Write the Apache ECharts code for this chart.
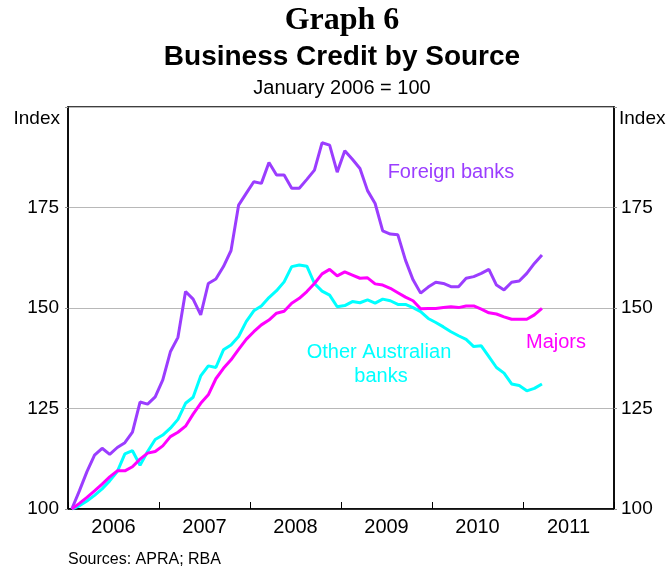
<!DOCTYPE html>
<html lang="en">
<head>
<meta charset="UTF-8">
<title>Business Credit by Source</title>
<style>html,body{margin:0;padding:0;background:#fff;}</style>
</head>
<body>
<div id="main" style="width:668px;height:570px;"></div>
<script src="https://cdn.jsdelivr.net/npm/echarts@6/dist/echarts.min.js"></script>
<script>
// monthly index, January 2006 = 100 (Jan 2006 .. Mar 2011)
var years = ['2006', '2007', '2008', '2009', '2010', '2011'];

var foreignBanks = [100, 104.5, 109.3, 113.4, 115.1, 113.6, 115.3, 116.5, 119.1, 126.6,
    126.1, 127.9, 132.1, 139.1, 142.7, 154.1, 152.2, 148.3, 156.1, 157.2,
    160.3, 164.3, 175.6, 178.5, 181.4, 181.0, 186.2, 183.1, 183.1, 179.8,
    179.8, 182.0, 184.3, 191.1, 190.5, 183.8, 189.1, 187.0, 184.7, 179.2,
    176.0, 169.2, 168.4, 168.2, 161.9, 157.0, 153.7, 155.2, 156.4, 156.1,
    155.3, 155.3, 157.4, 157.8, 158.6, 159.6, 155.7, 154.5, 156.4, 156.7,
    158.6, 161.1, 163.2];

var majors = [100, 101.4, 102.9, 104.5, 106.2, 108.0, 109.5, 109.5, 110.5, 112.4,
    113.9, 114.3, 115.7, 118.0, 119.1, 120.6, 123.6, 126.3, 128.4, 132.4,
    135.0, 137.1, 139.7, 142.2, 144.1, 145.8, 147.0, 148.7, 149.2, 151.2,
    152.4, 154.1, 156.1, 158.5, 159.6, 158.0, 159.0, 158.2, 157.4, 157.5,
    156.0, 155.7, 154.9, 153.8, 152.7, 151.8, 149.8, 149.9, 149.9, 150.1,
    150.3, 150.1, 150.5, 150.5, 149.7, 148.8, 148.5, 147.8, 147.2, 147.2,
    147.2, 148.3, 149.9];

var otherAustralian = [100, 100.8, 102.0, 103.4, 105.0, 107.0, 109.3, 113.7, 114.5, 110.9,
    114.3, 117.3, 118.4, 120.1, 122.3, 126.3, 127.8, 133.1, 135.6, 135.2,
    139.6, 140.8, 142.9, 146.6, 149.3, 150.5, 152.6, 154.3, 156.5, 160.3,
    160.7, 160.4, 156.1, 154.2, 153.2, 150.3, 150.6, 151.6, 151.3, 152.0,
    151.2, 152.2, 151.8, 150.9, 150.9, 150.1, 149.1, 147.4, 146.4, 145.3,
    144.1, 143.1, 142.2, 140.4, 140.6, 137.9, 135.2, 133.8, 131.1, 130.7,
    129.4, 130.0, 131.1];

// months since Jan 2006, plotted mid-month
function toPoints(arr) {
    var out = [];
    for (var i = 0; i < arr.length; i++) {
        out.push([i + 0.5, arr[i]]);
    }
    return out;
}

var sans = "'Liberation Sans', Arial, sans-serif";
var purple = '#9b3dff';
var magenta = '#ff00ff';
var cyan = '#00ffff';

var myChart = echarts.init(document.getElementById('main'));

var option = {
    animation: false,
    backgroundColor: '#fff',
    grid: {
        left: 68, right: 54, top: 107, bottom: 61,
        show: true, borderColor: '#000', borderWidth: 1.5
    },
    xAxis: [
        {
            type: 'value', min: 0, max: 72, interval: 12, position: 'bottom',
            axisLine: {show: true, lineStyle: {color: '#000', width: 1.5}},
            axisTick: {show: true, inside: true, length: 7, lineStyle: {color: '#000', width: 1}},
            axisLabel: {show: false},
            splitLine: {show: false}
        },
        {
            type: 'category', data: years, position: 'bottom', boundaryGap: true,
            axisLine: {show: false},
            axisTick: {show: false},
            axisLabel: {color: '#000', fontSize: 20, fontFamily: sans, margin: 8},
            splitLine: {show: false}
        }
    ],
    yAxis: [
        {
            type: 'value', min: 100, max: 200, interval: 25, position: 'left',
            axisLine: {show: true, lineStyle: {color: '#000', width: 1.5}},
            axisTick: {show: true, length: 3, lineStyle: {color: '#999'}},
            axisLabel: {
                color: '#000', fontSize: 19, fontFamily: sans, margin: 9,
                formatter: function (v) { return v === 200 ? '' : v; }
            },
            splitLine: {show: true, lineStyle: {color: '#b8b8b8', width: 1}}
        },
        {
            type: 'value', min: 100, max: 200, interval: 25, position: 'right',
            axisLine: {show: true, lineStyle: {color: '#000', width: 1.5}},
            axisTick: {show: true, length: 3, lineStyle: {color: '#999'}},
            axisLabel: {
                color: '#000', fontSize: 19, fontFamily: sans, margin: 7,
                formatter: function (v) { return v === 200 ? '' : v; }
            },
            splitLine: {show: false}
        }
    ],
    series: [
        {
            name: 'Foreign banks', type: 'line', xAxisIndex: 0, yAxisIndex: 0,
            data: toPoints(foreignBanks), showSymbol: false,
            lineStyle: {color: purple, width: 3}, itemStyle: {color: purple}
        },
        {
            name: 'Other Australian banks', type: 'line', xAxisIndex: 0, yAxisIndex: 0,
            data: toPoints(otherAustralian), showSymbol: false,
            lineStyle: {color: cyan, width: 3}, itemStyle: {color: cyan}
        },
        {
            name: 'Majors', type: 'line', xAxisIndex: 0, yAxisIndex: 0,
            data: toPoints(majors), showSymbol: false,
            lineStyle: {color: magenta, width: 3}, itemStyle: {color: magenta}
        }
    ],
    graphic: [
        {type: 'text', x: 342, y: 21, style: {text: 'Graph 6', fill: '#000', align: 'center', verticalAlign: 'middle',
            font: "bold 32px 'Liberation Serif', 'Times New Roman', serif"}},
        {type: 'text', x: 342, y: 57, style: {text: 'Business Credit by Source', fill: '#000', align: 'center', verticalAlign: 'middle',
            font: 'bold 28px ' + sans}},
        {type: 'text', x: 342, y: 88, style: {text: 'January 2006 = 100', fill: '#000', align: 'center', verticalAlign: 'middle',
            font: '20px ' + sans}},
        {type: 'text', x: 60, y: 119, style: {text: 'Index', fill: '#000', align: 'right', verticalAlign: 'middle',
            font: '19px ' + sans}},
        {type: 'text', x: 619, y: 119, style: {text: 'Index', fill: '#000', align: 'left', verticalAlign: 'middle',
            font: '19px ' + sans}},
        {type: 'text', x: 451, y: 172, style: {text: 'Foreign banks', fill: purple, align: 'center', verticalAlign: 'middle',
            font: '20px ' + sans}},
        {type: 'text', x: 556, y: 342, style: {text: 'Majors', fill: magenta, align: 'center', verticalAlign: 'middle',
            font: '20px ' + sans}},
        {type: 'text', x: 379, y: 352, style: {text: 'Other Australian', fill: cyan, align: 'center', verticalAlign: 'middle',
            font: '20px ' + sans}},
        {type: 'text', x: 381, y: 376, style: {text: 'banks', fill: cyan, align: 'center', verticalAlign: 'middle',
            font: '20px ' + sans}},
        {type: 'text', x: 68, y: 560, style: {text: 'Sources: APRA; RBA', fill: '#000', align: 'left', verticalAlign: 'middle',
            font: '16px ' + sans}}
    ]
};

myChart.setOption(option);
</script>
</body>
</html>
